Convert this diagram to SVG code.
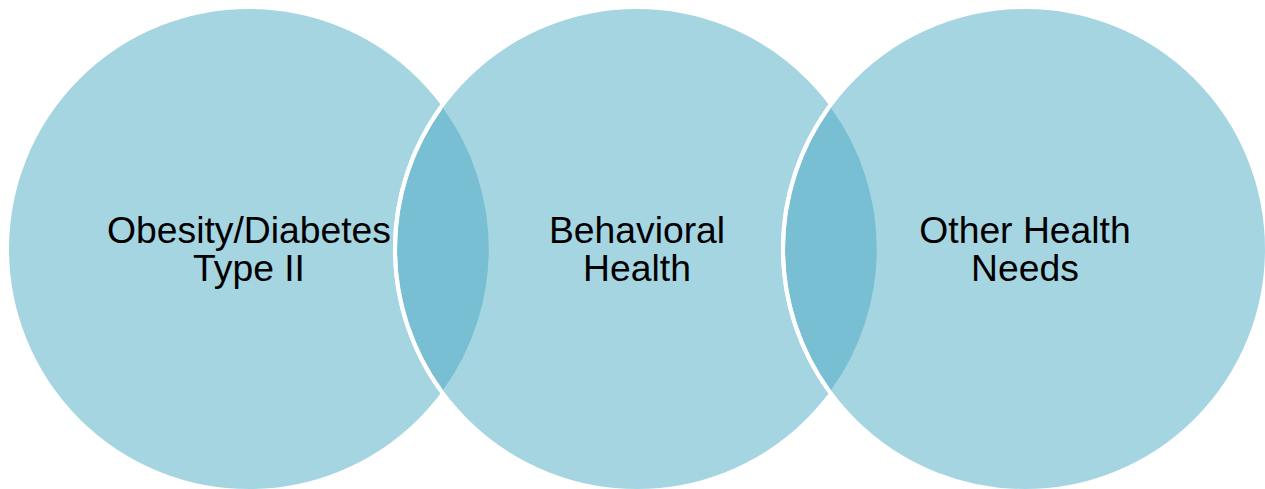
<svg xmlns="http://www.w3.org/2000/svg" width="1265" height="489" viewBox="0 0 1265 489">
<style>
.c{fill:#A6D5E2;stroke:#FFFFFF;stroke-width:4;}
.lens{fill:#78BFD3;}
.edge{fill:none;stroke:#FFFFFF;stroke-width:4;}
.t{font-family:"Liberation Sans",Arial,sans-serif;font-size:37.3px;fill:#000;text-anchor:middle;}
</style>
<rect width="1265" height="489" fill="#FFFFFF"/>
<g id="node-obesity">
<circle class="c" cx="249" cy="249" r="242"/>
</g>
<g id="node-behavioral">
<circle class="c" cx="637" cy="249" r="242"/>
</g>
<g id="node-other">
<circle class="c" cx="1025" cy="249" r="242"/>
</g>
<g id="overlaps">
<path class="lens" d="M443,108 A240,240 0 0 0 443,390 A240,240 0 0 0 443,108 Z"/>
<path class="lens" d="M831,108 A240,240 0 0 0 831,390 A240,240 0 0 0 831,108 Z"/>
<path class="edge" d="M440.3,108 A242,242 0 0 0 440.3,390"/>
<path class="edge" d="M828.3,108 A242,242 0 0 0 828.3,390"/>
</g>
<g id="labels">
<text class="t" x="249" y="243">Obesity/Diabetes</text>
<text class="t" x="249" y="281">Type II</text>
<text class="t" x="637" y="243">Behavioral</text>
<text class="t" x="637" y="281">Health</text>
<text class="t" x="1025" y="243">Other Health</text>
<text class="t" x="1025" y="281">Needs</text>
</g>
</svg>
